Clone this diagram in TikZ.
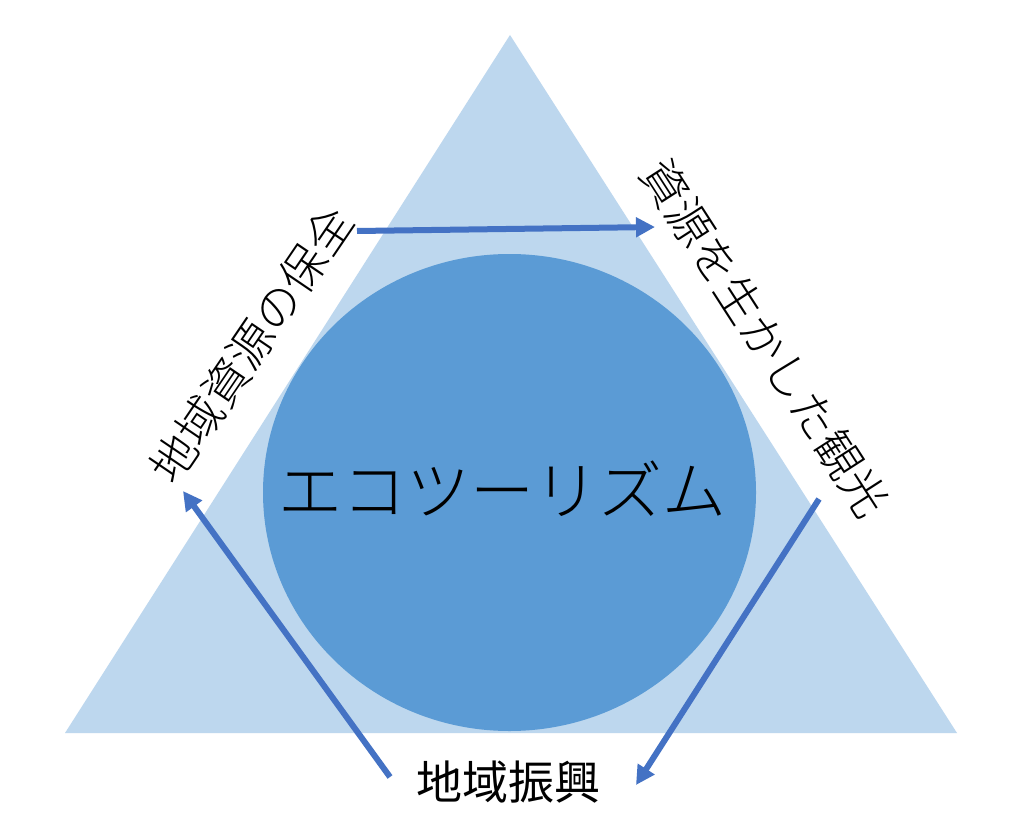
\documentclass[tikz,border=0pt]{standalone}
\usepackage{fontspec}
\IfFontExistsTF{Noto Sans CJK JP Light}{\newfontfamily\jp{Noto Sans CJK JP Light}}{\newfontfamily\jp{Noto Sans CJK JP}}
\newfontfamily\jpreg{Noto Sans CJK JP}
\usetikzlibrary{arrows.meta}
\definecolor{triblue}{HTML}{BDD7EE}
\definecolor{circblue}{HTML}{5B9BD5}
\definecolor{arrblue}{HTML}{4472C4}
\tikzset{
  lbl/.style={inner sep=0pt, font=\jp\fontsize{46}{50}\selectfont, text=black},
  botl/.style={inner sep=0pt, font=\jpreg\fontsize{46}{50}\selectfont, text=black},
  bigl/.style={inner sep=0pt, font=\jp\fontsize{64}{70}\selectfont, text=black},
  flow/.style={draw=arrblue, line width=6pt, -{Triangle[length=19pt,width=19pt]}}
}
\begin{document}
\begin{tikzpicture}[x=1pt,y=-1pt]
\useasboundingbox (0,0) rectangle (1024,818);
\fill[white] (0,0) rectangle (1024,818);
% triangle
\fill[triblue] (510,35) -- (957,733) -- (65,733) -- cycle;
% circle
\fill[circblue] (509.5,492.5) ellipse [x radius=246.5pt, y radius=238.5pt];
% texts
\node[bigl] (eco) at (502,489) {エコツーリズム};
\node[lbl, rotate=55.8] (left) at (251.5,345) {地域資源の保全};
\node[lbl, rotate=-57.2] (right) at (765,338) {資源を生かした観光};
\node[botl] (bottom) at (508,782) {地域振興};
% arrow endpoints
\coordinate (a1s) at (357,231);
\coordinate (a1e) at (655,227);
\coordinate (a2s) at (819,499);
\coordinate (a2e) at (636,785);
\coordinate (a3s) at (390,777);
\coordinate (a3e) at (183,491);
\draw[flow] (a1s) -- (a1e);
\draw[flow] (a2s) -- (a2e);
\draw[flow] (a3s) -- (a3e);
\end{tikzpicture}
\end{document}
